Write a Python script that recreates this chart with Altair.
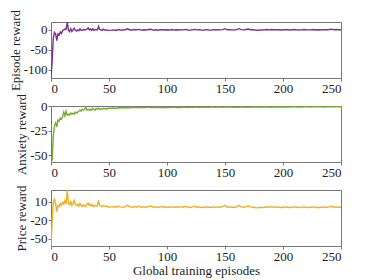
import altair as alt
import pandas as pd

ep_early = list(range(0, 51))
ep_late = list(range(52, 251, 2))
episodes = ep_early + ep_late

episode_early = [-121, -78, -20, -6, -10, -27, -10, -13, -5, -9, -2,
                 0, 2, 1, 20, 0, -4, 3, -4, 0, 4,
                 -1, -3, 0, -2, 3, -1, -1, 1, 0, 1,
                 2, 5, 0, 3, -1, 3, -1, 0, 1, 0,
                 9, 1, 0, -1, 2, 0, 0, 0, -1, -1]
episode_late = [-0.5, 0.2, -1.2, 1.0, -0.3, -0.2, 0.5, 2.8, -0.1, -0.3,
                1.0, 0.1, 1.3, -0.5, 0.4, -0.3, 1.1, 1.8, -0.4, 0.5,
                -0.8, 0.4, 0.5, -0.2, 0.5, -0.3, 0.9, -0.4, 0.3, 0.0,
                0.7, 0.2, 1.4, -0.2, -0.4, 0.4, 1.5, 0.2, 0.3, -0.4,
                0.0, 0.8, -0.1, -0.4, 0.7, 0.0, 0.8, 0.1, 0.9, 3.2,
                0.4, 0.6, 0.2, -0.5, 0.8, 3.1, 0.9, 0.2, 1.0, 2.3,
                0.6, 0.4, -0.3, -0.7, 0.1, -0.1, 0.2, 1.0, 0.3, 1.1,
                0.4, 0.8, 0.5, -0.3, 0.4, 0.8, 0.5, -0.3, 0.4, 1.1,
                0.3, -0.1, 0.2, 1.0, 0.4, 0.1, 0.3, 1.0, -0.1, 0.6,
                -0.1, 0.5, 0.8, 0.6, 1.0, 1.9, 0.6, 1.0, 0.4, 0.5]

anxiety_early = [-57, -55, -30, -20, -17, -21, -14, -15, -12, -13, -11,
                 -6, -10, -5, -9, -8, -9, -7, -8, -7, -8,
                 -6, -7, -6, -5, -4, -5, -3, -4, -3, -1,
                 -4, -3, -4, -3, -4, -2, -3, -4, -2, -3,
                 -2, -3, -2.5, -3, -2, -2.5, -2, -3, -2, -2]
anxiety_late = [-2, -1.8, -2.2, -1.5, -1.8, -1.2, -1.5, -1.2, -1.6, -1.3,
                -1.0, -1.4, -1.2, -1.5, -1.1, -1.3, -0.9, -1.2, -1.4, -1.0,
                -1.3, -1.1, -1.5, -1.2, -1.0, -1.3, -1.1, -0.9, -1.2, -1.0,
                -1.3, -0.8, -1.1, -1.2, -0.9, -1.1, -1.0, -0.8, -1.2, -0.9,
                -1.0, -0.7, -1.1, -0.9, -0.8, -1.0, -0.7, -0.9, -1.1, -0.8,
                -0.6, -0.9, -0.8, -1.0, -0.7, -0.9, -0.6, -0.8, -1.0, -0.7,
                -0.9, -0.6, -0.8, -0.7, -0.9, -0.6, -0.8, -0.5, -0.7, -0.9,
                -0.6, -0.7, -0.5, -0.8, -0.6, -0.7, -0.5, -0.8, -0.6, -0.4,
                -0.7, -0.6, -0.8, -0.5, -0.6, -0.4, -0.7, -0.5, -0.6, -0.4,
                -0.6, -0.5, -0.7, -0.4, -0.5, -0.6, -0.4, -0.5, -0.6, -0.5]

price_early = [-62, -22, 10, 14, 7, -6, 4, 2, 7, 4, 9,
               6, 12, 6, 29, 8, 5, 10, 4, 7, 12,
               5, 4, 6, 3, 7, 4, 2, 5, 3, 2,
               6, 8, 4, 6, 3, 5, 2, 4, 3, 3,
               12, 4, 3, 2, 4, 3, 2, 3, 2, 1]
price_late = [1.5, 2, 1, 2.5, 1.5, 1, 2, 4, 1.5, 1,
              2, 1.5, 2.5, 1, 1.5, 1, 2, 3, 1, 1.5,
              0.5, 1.5, 2, 1, 1.5, 1, 2, 0.5, 1.5, 1,
              2, 1, 2.5, 1, 0.5, 1.5, 2.5, 1, 1.5, 0.5,
              1, 1.5, 1, 0.5, 1.5, 1, 1.5, 1, 2, 4,
              1, 1.5, 1, 0.5, 1.5, 4, 1.5, 1, 2, 3,
              1.5, 1, 0.5, 0, 1, 0.5, 1, 1.5, 1, 2,
              1, 1.5, 1, 0.5, 1, 1.5, 1, 0.5, 1, 1.5,
              1, 0.5, 1, 1.5, 1, 0.5, 1, 1.5, 0.5, 1,
              0.5, 1, 1.5, 1, 1.5, 2.5, 1, 1.5, 1, 1]

episode_reward = episode_early + episode_late
anxiety_reward = anxiety_early + anxiety_late
price_reward = price_early + price_late

x_ticks = [0, 50, 100, 150, 200, 250]
FONT = "Liberation Serif"


def panel(values, color, ytitle, domain, yticks, xtitle=None):
    df = pd.DataFrame({"ep": episodes, "v": values})
    xaxis = alt.Axis(values=x_ticks, title=xtitle, labelExpr="'' + datum.value")
    return (
        alt.Chart(df)
        .mark_line(color=color, strokeWidth=1.4, clip=True)
        .encode(
            x=alt.X("ep:Q", scale=alt.Scale(domain=[0, 250], nice=False, zero=False), axis=xaxis),
            y=alt.Y("v:Q", scale=alt.Scale(domain=domain, nice=False, zero=False),
                    axis=alt.Axis(values=yticks, title=ytitle, labelExpr="'' + datum.value")),
        )
        .properties(width=290, height=56)
    )


p1 = panel(episode_reward, "#7E2F8E", "Episode reward", [-121, 20], [0, -50, -100])
p2 = panel(anxiety_reward, "#77AC30", "Anxiety reward", [-57, 0.3], [0, -25, -50])
p3 = panel(price_reward, "#EDB120", "Price reward", [-62, 29], [10, -20, -50],
           xtitle="Global training episodes")

chart = (
    alt.vconcat(p1, p2, p3, spacing=28, bounds="flush")
    .properties(padding={"left": 0, "top": 0, "right": 5, "bottom": 2})
    .configure_view(stroke="#777777", strokeWidth=1)
    .configure_axis(
        domain=False,
        grid=False,
        labelFont=FONT,
        titleFont=FONT,
        labelFontSize=13,
        titleFontSize=13,
        titleFontWeight="normal",
        labelColor="#222222",
        titleColor="#222222",
        tickColor="#777777",
        tickSize=3,
        labelPadding=1,
        titlePadding=1,
    )
    .configure_axisY(minExtent=0)
)

chart.save("out.html", embed_options={"renderer": "svg", "actions": False})
